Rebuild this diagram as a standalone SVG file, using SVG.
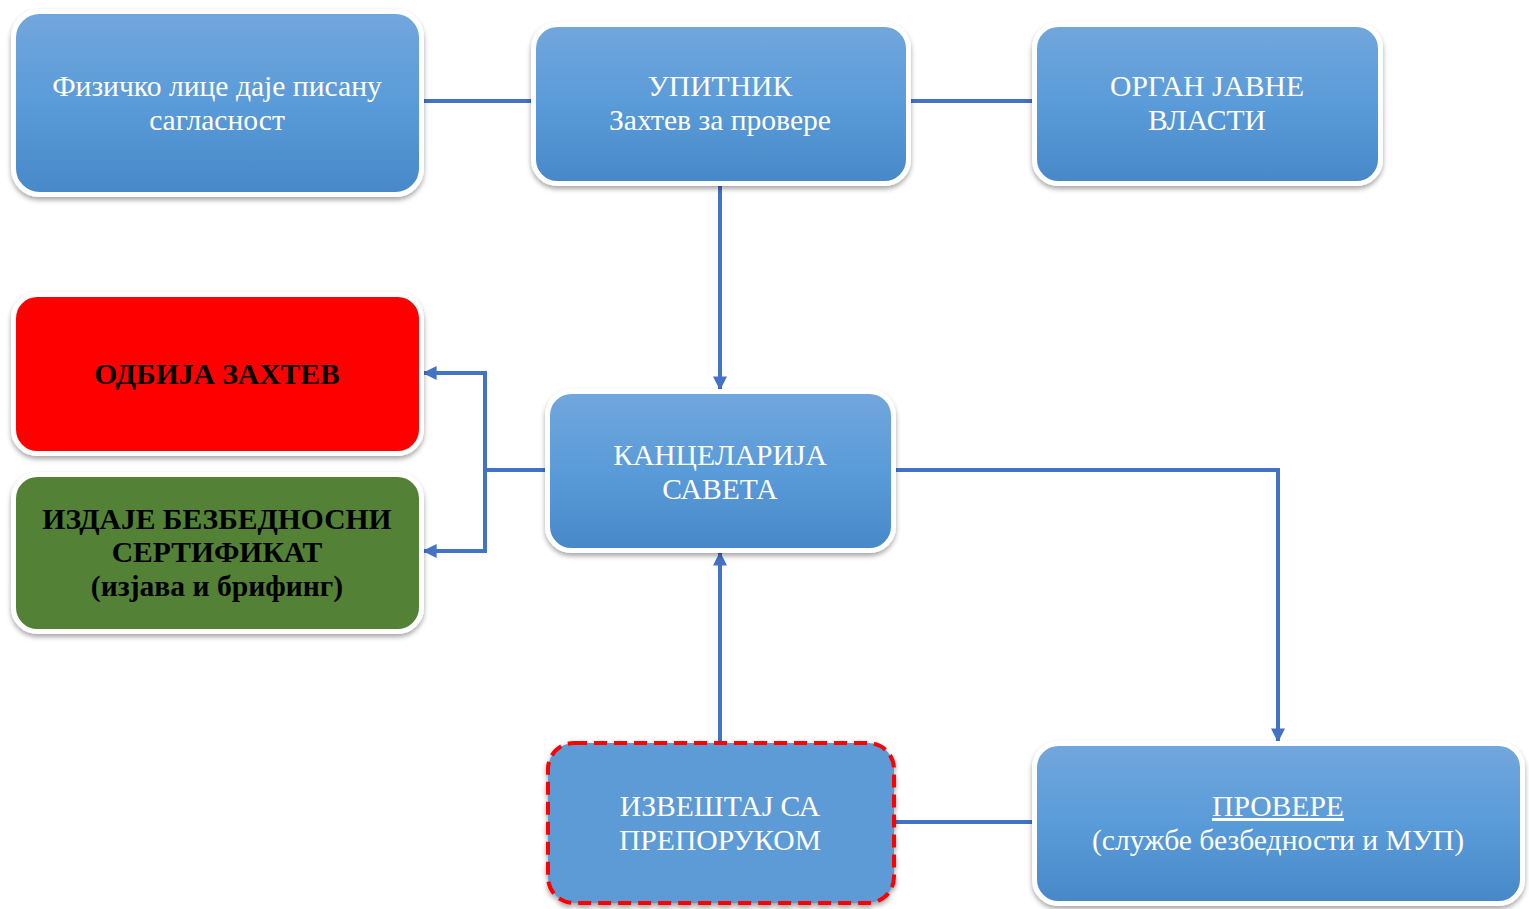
<svg xmlns="http://www.w3.org/2000/svg" width="1529" height="909" viewBox="0 0 1529 909">
<style>
.t{font-family:"Liberation Serif","Times New Roman",serif;font-size:29.6px;fill:#ffffff;text-anchor:middle}
.b{font-family:"Liberation Serif","Times New Roman",serif;font-size:29.6px;font-weight:bold;fill:#000000;text-anchor:middle}
.box{stroke:#ffffff;stroke-width:5;filter:url(#sh)}
.blue{fill:url(#g)}
.con{fill:none;stroke:#4472C4;stroke-width:4}
</style>
<defs>
<linearGradient id="g" x1="0" y1="0" x2="0" y2="1">
<stop offset="0" stop-color="#72a7dc"/>
<stop offset="0.5" stop-color="#5a9bd9"/>
<stop offset="1" stop-color="#4888c8"/>
</linearGradient>
<filter id="sh" x="-10%" y="-10%" width="120%" height="125%">
<feDropShadow dx="0" dy="3" stdDeviation="2.5" flood-color="#000000" flood-opacity="0.35"/>
</filter>
<marker id="ar" viewBox="0 0 10 10" refX="9" refY="5" markerWidth="3.5" markerHeight="3.5" orient="auto" markerUnits="strokeWidth">
<path d="M0,0 L10,5 L0,10 z" fill="#4472C4"/>
</marker>
</defs>
<g id="connectors">
<line class="con" x1="424" y1="101" x2="533" y2="101"/>
<line class="con" x1="909" y1="101" x2="1034" y2="101"/>
<line class="con" x1="720" y1="186" x2="720" y2="389" marker-end="url(#ar)"/>
<polyline class="con" points="547,470 485,470"/>
<polyline class="con" points="485,551 485,373 424,373" marker-end="url(#ar)"/>
<polyline class="con" points="485,470 485,551 424,551" marker-end="url(#ar)"/>
<polyline class="con" points="894,470 1278,470 1278,741" marker-end="url(#ar)"/>
<line class="con" x1="720" y1="741" x2="720" y2="553" marker-end="url(#ar)"/>
<line class="con" x1="894" y1="822" x2="1034" y2="822"/>
</g>
<g id="n-fizicko">
<rect class="box blue" x="13.5" y="11.5" width="408" height="183" rx="26"/>
<text class="t" x="217" y="96">Физичко лице даје писану</text>
<text class="t" x="217" y="130">сагласност</text>
</g>
<g id="n-upitnik">
<rect class="box blue" x="533.5" y="24.5" width="375" height="159" rx="24"/>
<text class="t" x="720" y="96">УПИТНИК</text>
<text class="t" x="720" y="130">Захтев за провере</text>
</g>
<g id="n-organ">
<rect class="box blue" x="1034.5" y="24.5" width="346" height="159" rx="24"/>
<text class="t" x="1207" y="96">ОРГАН ЈАВНЕ</text>
<text class="t" x="1207" y="130">ВЛАСТИ</text>
</g>
<g id="n-odbija">
<rect class="box" fill="#ff0000" x="13.5" y="294.5" width="408" height="159" rx="24"/>
<text class="b" x="217" y="384">ОДБИЈА ЗАХТЕВ</text>
</g>
<g id="n-izdaje">
<rect class="box" fill="#538135" x="13.5" y="474.5" width="408" height="157" rx="24"/>
<text class="b" x="217" y="529">ИЗДАЈЕ БЕЗБЕДНОСНИ</text>
<text class="b" x="217" y="562">СЕРТИФИКАТ</text>
<text class="b" x="217" y="596">(изјава и брифинг)</text>
</g>
<g id="n-kancelarija">
<rect class="box blue" x="547.5" y="391.5" width="346" height="159" rx="24"/>
<text class="t" x="720" y="465">КАНЦЕЛАРИЈА</text>
<text class="t" x="720" y="499">САВЕТА</text>
</g>
<g id="n-izvestaj">
<rect x="548" y="743" width="346" height="160" rx="26" fill="#5b9bd5" stroke="#ff0000" stroke-width="4" stroke-dasharray="13,7" filter="url(#sh)"/>
<text class="t" x="720" y="816">ИЗВЕШТАЈ СА</text>
<text class="t" x="720" y="850">ПРЕПОРУКОМ</text>
</g>
<g id="n-provere">
<rect class="box blue" x="1034.5" y="743.5" width="488" height="160" rx="24"/>
<text class="t" x="1278" y="816" text-decoration="underline">ПРОВЕРЕ</text>
<text class="t" x="1278" y="850">(службе безбедности и МУП)</text>
</g>
</svg>
